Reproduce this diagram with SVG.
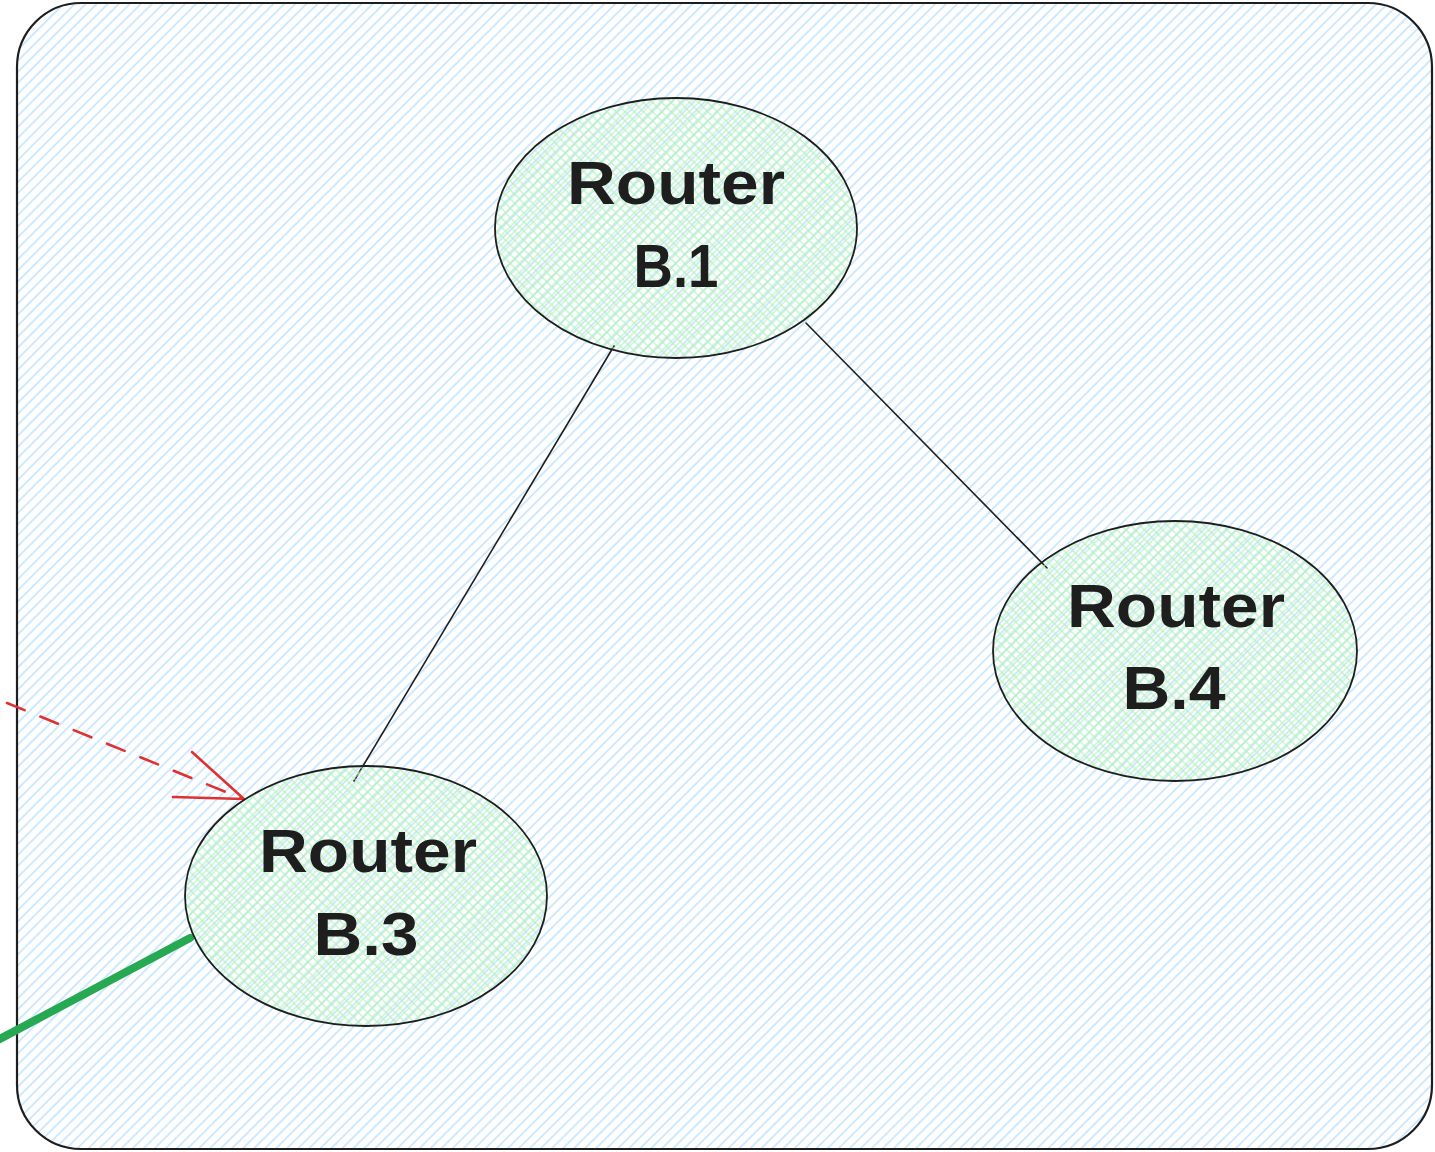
<svg xmlns="http://www.w3.org/2000/svg" width="1435" height="1152" viewBox="0 0 1435 1152">
  <defs>
    <!-- light blue diagonal hatch for the area frame -->
    <pattern id="hatchBlue" patternUnits="userSpaceOnUse" width="7.8" height="7.8" patternTransform="rotate(45)">
      <line x1="1" y1="0" x2="1" y2="7.8" stroke="#a5d8ff" stroke-width="1.1"/>
    </pattern>
    <!-- light green cross-hatch for router nodes -->
    <pattern id="hatchGreen" patternUnits="userSpaceOnUse" width="6.5" height="6.5" patternTransform="rotate(45)">
      <line x1="1" y1="0" x2="1" y2="6.5" stroke="#b2f2bb" stroke-width="1.1"/>
      <line x1="0" y1="1" x2="6.5" y2="1" stroke="#b2f2bb" stroke-width="1.1"/>
    </pattern>
    <style>
      .frame { fill: url(#hatchBlue); stroke: #1e1e1e; stroke-width: 2.2; }
      .router { fill: url(#hatchGreen); stroke: #1e1e1e; stroke-width: 1.8; }
      .label { font-family: "Liberation Sans", Arial, sans-serif; font-size: 62px; font-weight: bold; fill: #1e1e1e; text-anchor: middle; }
      .link { stroke: #1e1e1e; stroke-width: 1.6; fill: none; stroke-linecap: round; }
      .redarrow { stroke: #e03131; stroke-width: 2.6; fill: none; stroke-linecap: round; stroke-linejoin: round; }
      .uplink { stroke: #27a852; stroke-width: 8; fill: none; stroke-linecap: round; }
    </style>
  </defs>

  <rect width="1435" height="1152" fill="#ffffff"/>

  <!-- area frame -->
  <g id="area">
    <rect class="frame" x="17" y="3" width="1415" height="1146" rx="64" ry="64"/>
  </g>

  <!-- connectors -->
  <g id="connectors">
    <line class="link" x1="614" y1="346" x2="354" y2="781"/>
    <line class="link" x1="806" y1="323" x2="1047" y2="568"/>
    <line class="redarrow" x1="7" y1="703" x2="243" y2="799" stroke-dasharray="19 17"/>
    <path class="redarrow" d="M192 752 L244 799 L173 797"/>
    <line class="uplink" x1="-4" y1="1041" x2="190" y2="938"/>
  </g>

  <g id="router-b1">
    <ellipse class="router" cx="676" cy="228" rx="181" ry="130"/>
    <text class="label" x="676" y="204" textLength="218" lengthAdjust="spacingAndGlyphs">Router</text>
    <text class="label" x="676" y="287" textLength="85" lengthAdjust="spacingAndGlyphs">B.1</text>
  </g>

  <g id="router-b4">
    <ellipse class="router" cx="1175" cy="651" rx="182" ry="130"/>
    <text class="label" x="1176" y="627" textLength="218" lengthAdjust="spacingAndGlyphs">Router</text>
    <text class="label" x="1174" y="709" textLength="103" lengthAdjust="spacingAndGlyphs">B.4</text>
  </g>

  <g id="router-b3">
    <ellipse class="router" cx="366" cy="896" rx="181" ry="130"/>
    <text class="label" x="368" y="872" textLength="218" lengthAdjust="spacingAndGlyphs">Router</text>
    <text class="label" x="366" y="955" textLength="105" lengthAdjust="spacingAndGlyphs">B.3</text>
  </g>
</svg>
